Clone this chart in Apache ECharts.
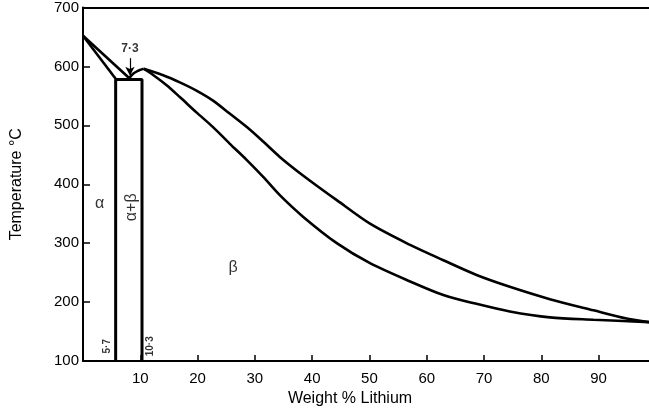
<!DOCTYPE html>
<html>
<head>
<meta charset="utf-8">
<script src="https://cdn.jsdelivr.net/npm/echarts@6/dist/echarts.min.js"></script>
<style>
  html, body { margin: 0; padding: 0; background: #fff; }
  #chart { width: 649px; height: 414px; }
</style>
</head>
<body>
<div id="chart"></div>
<script>
// phase boundaries, [wt % Li, temperature C]
var liquidusAlpha = [[0, 652], [8.1, 580]];
var solidusAlpha = [[0, 652], [5.7, 579]];
var liquidusHump = [[8.1, 580], [8.8, 588], [9.7, 593], [10.6, 596]];
var liquidusBeta = [[10.6, 596], [14.0, 585], [16.9, 573], [19.8, 559], [22.7, 542], [25.6, 520],
  [28.6, 497], [31.5, 472], [34.4, 446], [38.4, 415], [44.3, 373], [50.1, 333], [57.1, 297],
  [62.9, 271], [68.7, 246], [74.5, 226], [81.5, 205], [89.1, 186], [94.9, 172], [98.8, 166]];
var solidusBeta = [[10.6, 596], [12.3, 585], [14.6, 568], [16.9, 548], [19.8, 522], [22.7, 497],
  [25.6, 469], [28.6, 441], [31.5, 412], [34.4, 381], [38.4, 345], [44.3, 300], [50.1, 266],
  [57.1, 235], [62.9, 212], [68.7, 197], [74.5, 184], [81.5, 174], [89.1, 170], [98.8, 166]];
// two-phase box: 5.7 and 10.3 wt %, eutectic line
var twoPhaseBox = [[5.7, 100], [5.7, 578], [10.3, 578], [10.3, 100]];
var eutecticArrow = [[8.2, 614], [8.2, 584]];

// labels: [x, temp, text, rotate, fontSize]
var regionLabels = [
  [2.9, 368, 'α', 0, 16],
  [8.5, 361, 'α+β', 90, 16],
  [26.2, 258, 'β', 0, 16],
  [8.2, 630, '7·3', 0, 12],
  [4.25, 125, '5·7', 90, 10],
  [11.7, 125, '10·3', 90, 10]
];

var xTicks = { min: 0, max: 98.8, interval: 10 };
var yTicks = { min: 100, max: 700, interval: 100 };

var chart = echarts.init(document.getElementById('chart'));

var txt = { color: '#000', fontFamily: 'Liberation Sans, Arial, sans-serif', fontSize: 15 };

function curve(data, smooth) {
  return {
    type: 'line', data: data, symbol: 'none', smooth: smooth || false,
    lineStyle: { color: '#000', width: 2.6 }, silent: true, z: 3
  };
}

var option = {
  animation: false,
  backgroundColor: '#fff',
  grid: { left: 83, right: 0, top: 7, bottom: 53 },
  xAxis: [{
    type: 'value', min: xTicks.min, max: xTicks.max, interval: xTicks.interval,
    name: 'Weight % Lithium', nameLocation: 'middle', nameGap: 30,
    nameTextStyle: Object.assign({}, txt, { fontSize: 16, padding: [0, 32, 0, 0] }),
    axisLine: { lineStyle: { color: '#000', width: 2 } },
    axisTick: { inside: true, length: 6, lineStyle: { color: '#000', width: 1.5 } },
    axisLabel: Object.assign({}, txt, { showMinLabel: false, showMaxLabel: false, margin: 10 }),
    splitLine: { show: false }
  }, {
    type: 'value', position: 'top', min: xTicks.min, max: xTicks.max, interval: xTicks.interval,
    axisLine: { show: true, lineStyle: { color: '#000', width: 2 } },
    axisTick: { show: false },
    axisLabel: { show: false },
    splitLine: { show: false }
  }],
  yAxis: {
    type: 'value', min: yTicks.min, max: yTicks.max, interval: yTicks.interval,
    name: 'Temperature °C', nameLocation: 'middle', nameGap: 58, nameRotate: 90,
    nameTextStyle: Object.assign({}, txt, { fontSize: 16 }),
    axisLine: { lineStyle: { color: '#000', width: 2 } },
    axisTick: { inside: true, length: 7, lineStyle: { color: '#000', width: 1.5 } },
    axisLabel: Object.assign({}, txt, { margin: 4 }),
    splitLine: { show: false }
  },
  series: [
    curve(liquidusAlpha),
    curve(solidusAlpha),
    curve(liquidusHump, 0.4),
    curve(liquidusBeta, 0.3),
    curve(solidusBeta, 0.3),
    {
      type: 'line', data: twoPhaseBox, symbol: 'none', silent: true, z: 3,
      lineStyle: { color: '#000', width: 3 }
    },
    {
      type: 'line', data: [], silent: true,
      markLine: {
        silent: true, symbol: ['none', 'arrow'], symbolSize: [7, 9],
        label: { show: false },
        lineStyle: { color: '#000', width: 1.2, type: 'solid' },
        data: [[{ coord: eutecticArrow[0] }, { coord: eutecticArrow[1] }]]
      }
    },
    {
      type: 'scatter', symbolSize: 0, silent: true,
      data: regionLabels.map(function (l) {
        return {
          value: [l[0], l[1]], name: l[2],
          label: {
            show: true, position: 'inside', formatter: '{b}', rotate: l[3],
            color: '#000', fontFamily: 'Liberation Sans, Arial, sans-serif',
            fontSize: l[4], fontWeight: l[4] < 13 ? 'bold' : 'normal'
          }
        };
      })
    }
  ]
};

chart.setOption(option);
</script>
</body>
</html>
